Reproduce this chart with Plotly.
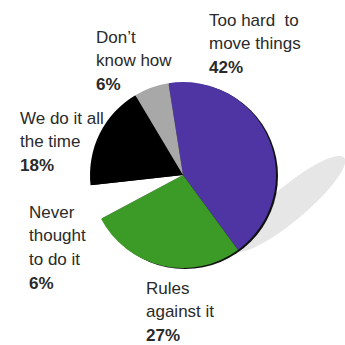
import numpy as np
import plotly.graph_objects as go

categories = ["Too hard  to<br>move things", "Rules<br>against it", "Never<br>thought<br>to do it",
              "We do it all<br>the time", "Don\u2019t<br>know how"]
values = [42, 27, 6, 18, 6]
colors = ["#4e35a3", "#3c9a27", "#ffffff", "#000000", "#a8a8a8"]
# label anchor: left x and centre y of first line, in pixels
label_pos = [(207, 20), (144, 288), (27, 212), (18, 118), (94, 37)]
LINE = 23.7

W = H = 345
def px(x):
    return x / W
def py(y):
    return 1 - y / H

cx, cy, r = 183, 175, 93

fig = go.Figure()
fig.add_trace(go.Pie(
    values=values, labels=[c.replace("<br>", " ") for c in categories], sort=False,
    direction="clockwise", rotation=-9, marker=dict(colors=colors, line=dict(width=0)),
    textinfo="none", hoverinfo="label+percent", showlegend=False,
    domain=dict(x=[px(cx - r), px(cx + r)], y=[py(cy + r), py(cy - r)]),
))

shapes = []
# shadow: rotated ellipse
t = np.linspace(0, 2 * np.pi, 60)
ang = np.deg2rad(-40)
a, b = 72, 17
sx0, sy0 = 289, 204
xs = sx0 + a * np.cos(t) * np.cos(ang) - b * np.sin(t) * np.sin(ang)
ys = sy0 + a * np.cos(t) * np.sin(ang) + b * np.sin(t) * np.cos(ang)
path = "M " + " L ".join(f"{px(x):.4f},{py(y):.4f}" for x, y in zip(xs, ys)) + " Z"
shapes.append(dict(type="path", xref="paper", yref="paper", path=path,
                   fillcolor="#e6e6e6", line=dict(width=0), layer="below"))
# dark rim
shapes.append(dict(type="circle", xref="paper", yref="paper",
                   x0=px(cx - r + 2), x1=px(cx + r + 2), y0=py(cy + r + 1), y1=py(cy - r + 1),
                   fillcolor="#111111", line=dict(width=0), layer="below"))

FONT = "Liberation Sans Narrow, Arial Narrow, Liberation Sans, Arial, sans-serif"
annotations = []
for cat, v, (x, y) in zip(categories, values, label_pos):
    lines = cat.split("<br>") + [f"<b>{v}%</b>"]
    for i, ln in enumerate(lines):
        annotations.append(dict(
            text=ln, x=px(x), y=py(y + i * LINE), xref="paper", yref="paper",
            xanchor="left", yanchor="middle", align="left", showarrow=False,
            font=dict(family=FONT, size=17, color="#2a2a2a"),
        ))

fig.update_layout(
    width=W, height=H, margin=dict(l=0, r=0, t=0, b=0),
    paper_bgcolor="white", plot_bgcolor="white",
    shapes=shapes, annotations=annotations,
)
fig.write_html("out.html")
